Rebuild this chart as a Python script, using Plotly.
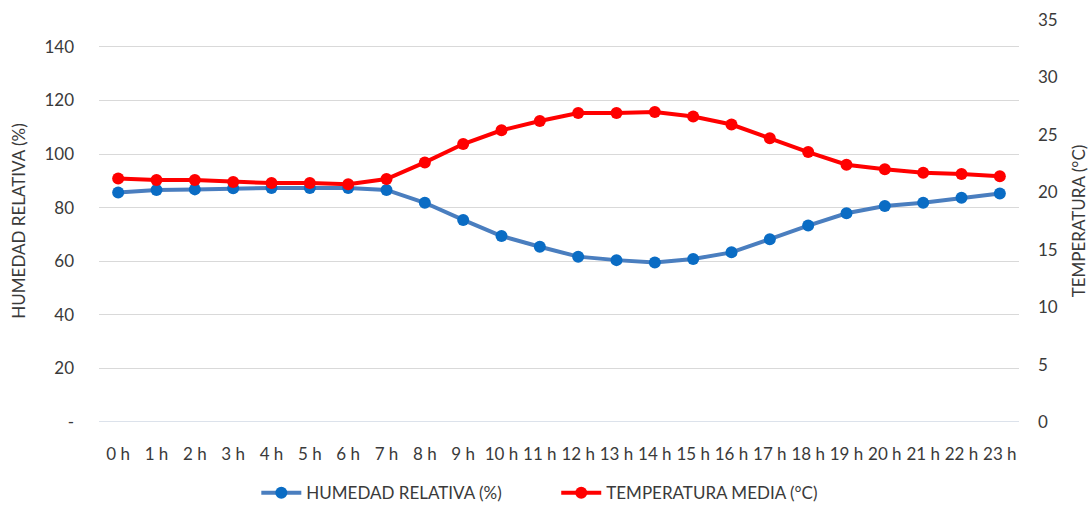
import plotly.graph_objects as go

horas = [f"{h} h" for h in range(24)]
humedad = [85.6, 86.6, 86.8, 87.2, 87.3, 87.3, 87.3, 86.6, 81.8, 75.4, 69.4, 65.4,
           61.7, 60.4, 59.5, 60.8, 63.3, 68.2, 73.3, 77.9, 80.6, 81.8, 83.7, 85.3]
temperatura = [21.2, 21.07, 21.07, 20.9, 20.8, 20.8, 20.7, 21.15, 22.6, 24.2, 25.4, 26.2,
               26.9, 26.9, 27.0, 26.6, 25.9, 24.7, 23.5, 22.4, 22.0, 21.7, 21.6, 21.4]

hum_ticks = [0, 20, 40, 60, 80, 100, 120, 140]
hum_ticktext = ["-", "20", "40", "60", "80", "100", "120", "140"]
temp_ticks = [0, 5, 10, 15, 20, 25, 30, 35]

FONT = "Lato"
TXT = "#3a3a3a"

fig = go.Figure()
fig.add_trace(go.Scatter(
    x=horas, y=humedad, name="HUMEDAD RELATIVA (%)", mode="lines+markers",
    line=dict(color="#4a7ebf", width=4),
    marker=dict(color="#0a6cc4", size=12),
    yaxis="y", legend="legend",
))
fig.add_trace(go.Scatter(
    x=horas, y=temperatura, name="TEMPERATURA MEDIA (°C)", mode="lines+markers",
    line=dict(color="#ff0000", width=4),
    marker=dict(color="#ff0000", size=12),
    yaxis="y2", legend="legend2",
))

legend_style = dict(orientation="h", xanchor="left", y=-0.177, yanchor="middle",
                    font=dict(size=17, color=TXT), itemwidth=40, bgcolor="rgba(0,0,0,0)")

fig.update_layout(
    width=1091, height=505,
    margin=dict(l=99, r=72, t=20, b=83, autoexpand=False),
    paper_bgcolor="white", plot_bgcolor="white",
    font=dict(family=FONT, color=TXT, size=17),
    showlegend=True,
    legend=dict(x=0.171, **legend_style),
    legend2=dict(x=0.497, **legend_style),
    xaxis=dict(
        type="category", range=[-0.5, 23.5], tickangle=0, automargin=False,
        showgrid=False, showline=False, zeroline=False,
        tickfont=dict(size=17, color=TXT), ticks="", ticklabelstandoff=20,
    ),
    yaxis=dict(
        range=[0, 150], tickvals=hum_ticks, ticktext=hum_ticktext, automargin=False,
        showgrid=True, gridcolor="#d9d9d9", gridwidth=1.3,
        zeroline=False, showline=False, ticks="", ticklabelstandoff=24,
        tickfont=dict(size=17, color=TXT),
        title=dict(text="HUMEDAD RELATIVA (%)", font=dict(size=17, color=TXT), standoff=14),
    ),
    yaxis2=dict(
        range=[0, 35], tickvals=temp_ticks, overlaying="y", side="right", automargin=False,
        showgrid=False, zeroline=False, showline=False, ticks="", ticklabelstandoff=18,
        tickfont=dict(size=17, color=TXT),
        title=dict(text="TEMPERATURA (°C)", font=dict(size=17, color=TXT), standoff=16),
    ),
)
# light baseline along the bottom of the plot area
fig.add_shape(type="line", xref="paper", yref="y", x0=0, x1=1, y0=0, y1=0,
              line=dict(color="#d0d8e4", width=1.3), layer="below")

fig.write_html("out.html")
